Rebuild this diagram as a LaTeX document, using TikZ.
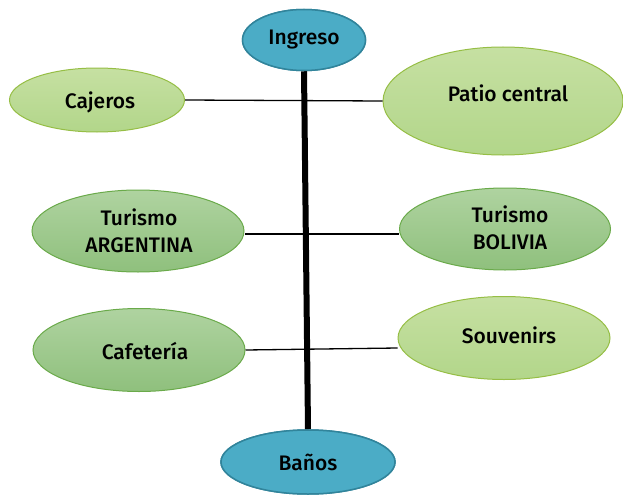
\documentclass[tikz,border=0pt]{standalone}
\usepackage{fontspec}
\setmainfont{Fira Sans}[UprightFont=* Medium]
\usetikzlibrary{shapes.geometric}
\definecolor{tealfill}{HTML}{4BACC6}
\definecolor{tealdraw}{HTML}{31849B}
\definecolor{ltop}{HTML}{C6E0A2}
\definecolor{lbot}{HTML}{B2D68A}
\definecolor{ldraw}{HTML}{96BE45}
\definecolor{mtop}{HTML}{AFD3A0}
\definecolor{mbot}{HTML}{8FC07D}
\definecolor{mdraw}{HTML}{6AAA4A}
\tikzset{
  lbl/.style={font=\fontsize{21}{27}\selectfont, align=center, text=black},
  tealell/.style={ellipse, draw=tealdraw, line width=1.5pt, fill=tealfill, inner sep=0pt, lbl},
  lightell/.style={ellipse, draw=ldraw, line width=1pt, top color=ltop, bottom color=lbot, inner sep=0pt, lbl},
  midell/.style={ellipse, draw=mdraw, line width=1pt, top color=mtop, bottom color=mbot, inner sep=0pt, lbl},
  thin/.style={line width=1.3pt, black},
}
\begin{document}
\begin{tikzpicture}[x=1pt,y=-1pt]
\useasboundingbox (0,0) rectangle (623,495);
\node[tealell, minimum width=123pt, minimum height=61pt] (ing) at (304,40) {};
\node[tealell, minimum width=174pt, minimum height=64pt] (ban) at (308,462) {};
\node[lightell, minimum width=175pt, minimum height=64pt] (caj) at (97,100) {};
\node[lightell, minimum width=240pt, minimum height=108pt] (pat) at (503,101) {};
\node[midell, minimum width=212pt, minimum height=82pt] (arg) at (138,231) {};
\node[midell, minimum width=211pt, minimum height=82pt] (bol) at (505,229) {};
\node[midell, minimum width=212pt, minimum height=83pt] (caf) at (139,350) {};
\node[lightell, minimum width=212pt, minimum height=83pt] (sou) at (504,338) {};
\draw[line width=6pt] (ing.south) -- (ban.north);
\draw[thin] (caj.east) -- (pat.west);
\draw[thin] (arg.east |- 0,234) -- (bol.west |- 0,234);
\draw[thin] (caf.east) -- (sou.west |- 0,348);
\node[tealell, minimum width=123pt, minimum height=61pt] at (ing) {};
\node[tealell, minimum width=174pt, minimum height=64pt] at (ban) {};
% labels
\node[lbl] (ingt) at (304,40) {Ingreso};
\node[lbl] (bant) at (308,462) {Baños};
\node[lbl] (cajt) at (100,102) {Cajeros};
\node[lbl] (patt) at (508,93) {Patio central};
\node[lbl] (argt) at (139,231) {Turismo\\ARGENTINA};
\node[lbl] (bolt) at (510,228) {Turismo\\BOLIVIA};
\node[lbl] (caft) at (145,351) {Cafetería};
\node[lbl] (sout) at (509,335) {Souvenirs};
\end{tikzpicture}
\end{document}
